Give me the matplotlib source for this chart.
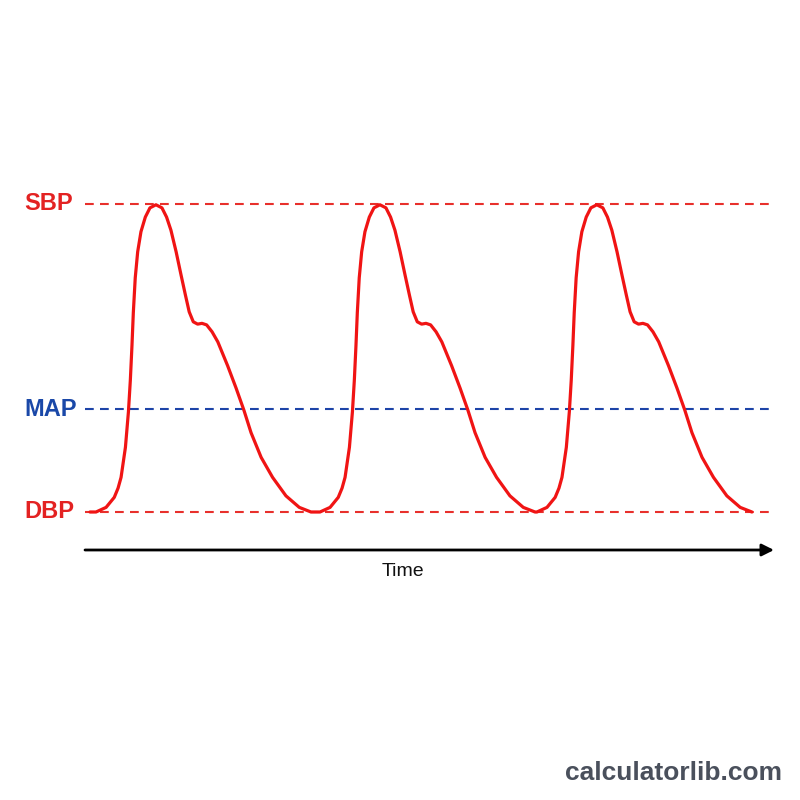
import matplotlib
matplotlib.use("Agg")
import matplotlib.pyplot as plt

# reference pressures (mmHg)
sbp = 120.0
dbp = 80.0
map_value = dbp + (sbp - dbp) / 3

# one beat of the arterial pressure trace
beat_t = [0.000, 0.037, 0.067, 0.081, 0.092, 0.108, 0.119, 0.126, 0.132, 0.137,
          0.144, 0.153, 0.165, 0.181, 0.198, 0.220, 0.242, 0.259, 0.275, 0.294,
          0.312, 0.328, 0.342, 0.357, 0.373, 0.389, 0.406, 0.426, 0.447, 0.483,
          0.514, 0.543, 0.569, 0.606, 0.648, 0.697, 0.746, 0.789]
beat_p = [80.0, 80.6, 81.9, 83.1, 84.5, 88.4, 93.0, 97.1, 101.6, 105.9,
          110.4, 113.8, 116.4, 118.3, 119.5, 119.9, 119.5, 118.3, 116.6, 113.8,
          110.8, 108.2, 106.0, 104.7, 104.4, 104.5, 104.3, 103.4, 102.1, 99.0,
          96.1, 93.2, 90.3, 87.1, 84.5, 82.1, 80.6, 80.0]

# start time of each beat (s)
beat_starts = [0.022, 0.844, 1.640]

labels = ["SBP", "MAP", "DBP"]
levels = [sbp, map_value, dbp]
label_colors = ["#e32222", "#1a48a8", "#e32222"]
line_colors = ["#e8302c", "#1d44a8", "#e8302c"]

# build the full trace
trace_t = [0.0]
trace_p = [dbp]
for s in beat_starts:
    trace_t += [s + t for t in beat_t]
    trace_p += beat_p

# pixel mapping: x=90px -> t=0, 218px per 0.8 s ; y: 512px -> 80, 204px -> 120
sec_per_px = 0.8 / 218
mm_per_px = (sbp - dbp) / 308

fig = plt.figure(figsize=(8, 8), dpi=100)
fig.patch.set_facecolor("white")
ax = fig.add_axes([0, 0, 1, 1])
ax.set_xlim(-90 * sec_per_px, 710 * sec_per_px)
ax.set_ylim(dbp - 288 * mm_per_px, sbp + 204 * mm_per_px)
ax.axis("off")

for lvl, c in zip(levels, line_colors):
    ax.axhline(lvl, xmin=85 / 800, xmax=775 / 800, color=c, lw=1.5,
               linestyle=(0, (4.2, 3.0)), zorder=1)

ax.plot(trace_t, trace_p, color="#f01414", lw=2.3, solid_joinstyle="round",
        solid_capstyle="round", zorder=3)

font = ["Liberation Sans", "DejaVu Sans"]
for lab, lvl, c in zip(labels, levels, label_colors):
    ax.text(24 / 800, lvl, lab, transform=ax.get_yaxis_transform(),
            ha="left", va="center", color=c, fontsize=17, fontweight="bold",
            family=font)

# time arrow
ax.annotate("", xy=(774 / 800, 1 - 550 / 800), xytext=(85 / 800, 1 - 550 / 800),
            xycoords="axes fraction", textcoords="axes fraction",
            arrowprops=dict(arrowstyle="-|>", lw=2, color="black",
                            mutation_scale=18, shrinkA=0, shrinkB=0))
fig.text(403 / 800, 1 - 571 / 800, "Time", ha="center", va="center",
         fontsize=14, color="#111111", family=font)

fig.text(782 / 800, 1 - 773 / 800, "calculatorlib.com", ha="right", va="center",
         fontsize=19, fontweight="bold", color="#4a505c", family=font)

fig.savefig("out.png", dpi=100, facecolor="white")
